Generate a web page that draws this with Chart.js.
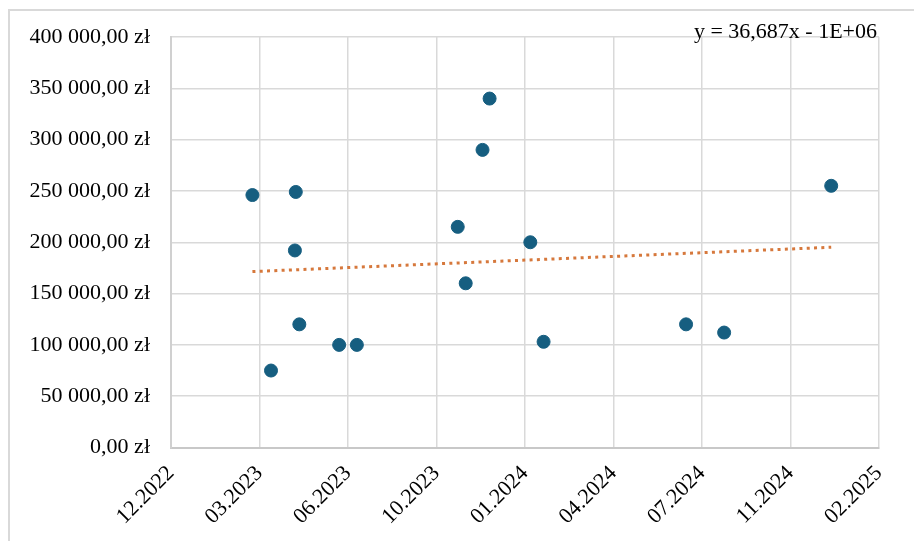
<!DOCTYPE html>
<html>
<head>
<meta charset="utf-8">
<script src="https://cdn.jsdelivr.net/npm/chart.js@4/dist/chart.umd.min.js"></script>
<style>
  html, body { margin: 0; padding: 0; background: #ffffff; }
  #wrap { position: relative; width: 914px; height: 541px; overflow: hidden; }
  #frame { position: absolute; left: 8px; top: 9px; width: 920px; height: 560px;
           border-left: 2px solid #d9d9d9; border-top: 2px solid #d9d9d9; }
  canvas { position: absolute; left: 0; top: 0; }
</style>
</head>
<body>
<div id="wrap">
  <div id="frame"></div>
  <canvas id="c" width="914" height="541"></canvas>
</div>
<script>
// Dates as Excel serial day numbers
const dates = [44992, 45041, 45040, 45045, 45013, 45090, 45110, 45224, 45233, 45252, 45260, 45306, 45321, 45482, 45525, 45646];
const amounts = [246000, 249000, 192000, 120000, 75000, 100000, 100000, 215000, 160000, 290000, 340000, 200000, 103000, 120000, 112000, 255000];
const xTickLabels = ['12.2022', '03.2023', '06.2023', '10.2023', '01.2024', '04.2024', '07.2024', '11.2024', '02.2025'];
const yTickValues = [0, 50000, 100000, 150000, 200000, 250000, 300000, 350000, 400000];
const trendLabel = 'y = 36,687x - 1E+06';

const points = dates.map((d, i) => ({ x: d, y: amounts[i] }));

// Linear trendline (least squares) from the data
const n = dates.length;
const mx = dates.reduce((a, b) => a + b, 0) / n;
const my = amounts.reduce((a, b) => a + b, 0) / n;
let sxy = 0, sxx = 0;
for (let i = 0; i < n; i++) { sxy += (dates[i] - mx) * (amounts[i] - my); sxx += (dates[i] - mx) ** 2; }
const slope = sxy / sxx;
const intercept = my - slope * mx;
const xMin = Math.min(...dates), xMax = Math.max(...dates);
const trendPts = [{ x: xMin, y: slope * xMin + intercept }, { x: xMax, y: slope * xMax + intercept }];

function fmtPLN(v) {
  const s = Math.round(v).toString().replace(/\B(?=(\d{3})+(?!\d))/g, ' ');
  return s + ',00 zł';
}

const FONT = 'Liberation Serif';

const trendTextPlugin = {
  id: 'trendText',
  afterDraw(chart) {
    const ctx = chart.ctx;
    ctx.save();
    ctx.font = '22px "' + FONT + '"';
    ctx.fillStyle = '#000000';
    ctx.textAlign = 'right';
    ctx.textBaseline = 'alphabetic';
    ctx.fillText(trendLabel, 877, 38);
    ctx.restore();
  }
};

new Chart(document.getElementById('c'), {
  type: 'scatter',
  data: {
    datasets: [
      {
        type: 'line',
        data: trendPts,
        borderColor: '#d6783c',
        borderWidth: 3,
        borderDash: [3, 4.3],
        pointRadius: 0,
        fill: false,
        order: 2
      },
      {
        data: points,
        backgroundColor: '#165e80',
        borderColor: '#165e80',
        borderWidth: 1,
        pointRadius: 6.5,
        pointHoverRadius: 6.5,
        order: 1
      }
    ]
  },
  options: {
    responsive: false,
    animation: false,
    devicePixelRatio: 1,
    layout: { padding: { top: 37, right: 35, left: 0, bottom: 0 } },
    plugins: { legend: { display: false }, tooltip: { enabled: false }, title: { display: false } },
    scales: {
      x: {
        type: 'linear',
        min: 44900,
        max: 45700,
        afterBuildTicks(scale) {
          scale.ticks = xTickLabels.map((_, i) => ({ value: 44900 + i * 100 }));
        },
        afterFit(scale) { scale.height = 541 - 447.5; scale.paddingLeft = 0; scale.paddingRight = 0; },
        grid: { color: '#d9d9d9', lineWidth: 1.5, drawTicks: false },
        border: { color: '#c8c8c8', width: 2 },
        ticks: {
          autoSkip: false,
          minRotation: 45,
          maxRotation: 45,
          padding: 13,
          color: '#000000',
          font: { family: FONT, size: 22 },
          callback: (v, i) => xTickLabels[i]
        }
      },
      y: {
        min: 0,
        max: 400000,
        afterBuildTicks(scale) {
          scale.ticks = yTickValues.map(v => ({ value: v }));
        },
        afterFit(scale) { scale.width = 171; scale.paddingTop = 0; scale.paddingBottom = 0; },
        grid: { color: '#d9d9d9', lineWidth: 1.5, drawTicks: false },
        border: { color: '#d0d0d0', width: 2 },
        ticks: {
          padding: 21,
          color: '#000000',
          font: { family: FONT, size: 22 },
          callback: (v) => fmtPLN(v)
        }
      }
    }
  },
  plugins: [trendTextPlugin]
});
</script>
</body>
</html>
